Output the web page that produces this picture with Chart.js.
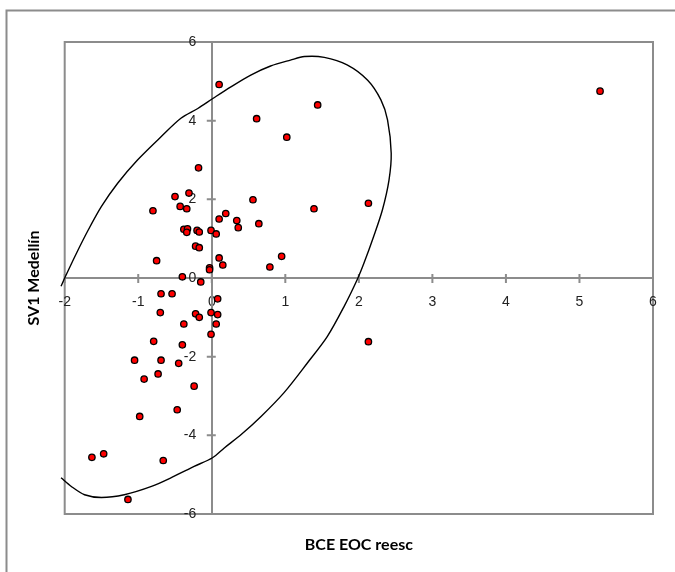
<!DOCTYPE html>
<html>
<head>
<meta charset="utf-8">
<script src="https://cdn.jsdelivr.net/npm/chart.js@4.4.1/dist/chart.umd.min.js"></script>
<style>
  html, body { margin: 0; padding: 0; background: #ffffff; }
  canvas { display: block; }
</style>
</head>
<body>
<canvas id="chart" width="675" height="572"></canvas>
<script>
// Axis titles
const xTitle = 'BCE EOC reesc';
const yTitle = 'SV1 Medellín';

// Axis ranges and tick steps
const xRange = [-2, 6];
const yRange = [-6, 6];
const xStep = 1;
const yStep = 2;

// Observations: BCE EOC (rescaled) vs SV1 Medellín
const bceValues = [
  0.10, 5.28, 1.44, 0.61, 1.02, -0.18, -0.31, -0.50, 0.56, 2.13,
  -0.80, -0.43, -0.34, 1.39, 0.19, 0.10, 0.34, 0.64, 0.36, -0.38,
  -0.33, -0.34, -0.20, -0.17, -0.01, 0.06, -0.22, -0.17, 0.95, 0.10,
  -0.75, 0.15, 0.79, -0.03, -0.03, -0.40, -0.15, -0.69, -0.54, 0.08,
  -0.70, -0.22, -0.17, -0.01, 0.08, -0.38, 0.06, -0.01, -0.79, -0.40,
  2.13, -1.05, -0.69, -0.45, -0.73, -0.92, -0.24, -0.47, -0.98, -1.47,
  -1.63, -0.66, -1.14
];
const sv1Values = [
  4.92, 4.75, 4.40, 4.05, 3.58, 2.80, 2.16, 2.07, 1.99, 1.90,
  1.71, 1.82, 1.76, 1.76, 1.64, 1.50, 1.46, 1.38, 1.28, 1.24,
  1.25, 1.16, 1.21, 1.17, 1.21, 1.12, 0.81, 0.77, 0.55, 0.51,
  0.44, 0.33, 0.28, 0.26, 0.21, 0.03, -0.10, -0.40, -0.40, -0.53,
  -0.88, -0.91, -1.00, -0.88, -0.93, -1.17, -1.17, -1.43, -1.61, -1.70,
  -1.62, -2.09, -2.09, -2.17, -2.44, -2.57, -2.75, -3.35, -3.52, -4.47,
  -4.56, -4.64, -5.63
];

// Confidence ellipse outline, traced clockwise (the part left of x = -2 is cut off)
const ellipseX = [
  -2.05, -2.00, -1.84, -1.68, -1.50, -1.28, -1.01, -0.69, -0.42, -0.19,
  0.02, 0.26, 0.53, 0.80, 1.07, 1.26, 1.53, 1.84, 2.12, 2.30,
  2.39, 2.44, 2.41, 2.32, 2.20, 2.07, 1.98, 1.80, 1.57, 1.30,
  0.98, 0.67, 0.40, 0.17, 0.01, -0.24, -0.51, -0.82, -1.19, -1.50,
  -1.73, -1.91, -2.05
];
const ellipseY = [
  -0.21, 0.00, 0.63, 1.22, 1.82, 2.41, 3.00, 3.59, 4.06, 4.31,
  4.57, 4.86, 5.16, 5.39, 5.54, 5.63, 5.61, 5.42, 5.03, 4.53,
  4.02, 3.17, 2.49, 1.73, 1.05, 0.38, -0.03, -0.72, -1.49, -2.16,
  -2.92, -3.52, -3.98, -4.32, -4.57, -4.79, -5.04, -5.30, -5.51, -5.58,
  -5.51, -5.30, -5.08
];

const points = bceValues.map((x, i) => ({ x: x, y: sv1Values[i] }));
const ellipse = ellipseX.map((x, i) => ({ x: x, y: ellipseY[i] }));

const frameGray = '#8c8c8c';
const tickFont = { family: "'Liberation Sans', Arial, sans-serif", size: 14 };
const titleFont = { family: "Lato, 'Liberation Sans', sans-serif", size: 16, weight: 'bold' };
// two figure spaces keep the y labels clear of the vertical axis
const yLabelGap = '\u2007\u2007';

// Outer frame, plot-area rectangle and cross-shaped tick marks on the zero axes
const framePlugin = {
  id: 'frame',
  beforeDraw(chart) {
    const ctx = chart.ctx;
    const a = chart.chartArea;
    ctx.save();
    ctx.strokeStyle = frameGray;
    ctx.lineWidth = 2;
    ctx.beginPath();
    ctx.moveTo(6.5, chart.height + 2);
    ctx.lineTo(6.5, 10.5);
    ctx.lineTo(chart.width + 2, 10.5);
    ctx.stroke();
    ctx.strokeRect(a.left, a.top, a.right - a.left, a.bottom - a.top);
    ctx.restore();
  },
  beforeDatasetsDraw(chart) {
    const ctx = chart.ctx;
    const xs = chart.scales.x;
    const ys = chart.scales.y;
    const x0 = xs.getPixelForValue(0);
    const y0 = ys.getPixelForValue(0);
    ctx.save();
    ctx.strokeStyle = frameGray;
    ctx.lineWidth = 2;
    ctx.beginPath();
    xs.ticks.forEach(t => {
      const px = xs.getPixelForValue(t.value);
      ctx.moveTo(px, y0 - 4);
      ctx.lineTo(px, y0 + 5);
    });
    ys.ticks.forEach(t => {
      const py = ys.getPixelForValue(t.value);
      ctx.moveTo(x0 - 5, py);
      ctx.lineTo(x0 + 4, py);
    });
    ctx.stroke();
    ctx.restore();
  }
};

new Chart(document.getElementById('chart'), {
  type: 'scatter',
  data: {
    datasets: [
      {
        label: 'Observaciones',
        data: points,
        pointStyle: 'circle',
        pointRadius: 3.2,
        pointHoverRadius: 3.2,
        pointBackgroundColor: '#ff0000',
        pointBorderColor: '#000000',
        pointBorderWidth: 1.3,
        showLine: false
      },
      {
        label: 'Elipse',
        data: ellipse,
        showLine: true,
        borderColor: '#000000',
        borderWidth: 1.4,
        tension: 0.3,
        pointRadius: 0,
        fill: false,
        clip: { left: 6, top: 0, right: 0, bottom: 0 }
      }
    ]
  },
  options: {
    responsive: false,
    maintainAspectRatio: false,
    animation: false,
    events: [],
    layout: { padding: { left: 24, top: 42, right: 22, bottom: 13.4 } },
    plugins: {
      legend: { display: false },
      tooltip: { enabled: false }
    },
    scales: {
      x: {
        type: 'linear',
        min: xRange[0],
        max: xRange[1],
        position: { y: 0 },
        afterFit: s => { s.height = 0; },
        grid: { display: false, drawTicks: false },
        border: { display: true, color: frameGray, width: 2 },
        ticks: { stepSize: xStep, font: tickFont, color: '#222222', padding: 16, maxRotation: 0, autoSkip: false }
      },
      y: {
        type: 'linear',
        min: yRange[0],
        max: yRange[1],
        position: { x: 0 },
        afterFit: s => { s.width = 0; },
        grid: { display: false, drawTicks: false },
        border: { display: true, color: frameGray, width: 2 },
        ticks: {
          stepSize: yStep, font: tickFont, color: '#222222', autoSkip: false,
          callback: v => v + yLabelGap
        }
      },
      xTitleAxis: {
        type: 'linear',
        min: xRange[0],
        max: xRange[1],
        position: 'bottom',
        grid: { display: false, drawTicks: false },
        border: { display: false },
        ticks: { display: false },
        title: { display: true, text: xTitle, font: titleFont, color: '#000000', padding: { top: 21.4, bottom: 4 } }
      },
      yTitleAxis: {
        type: 'linear',
        min: yRange[0],
        max: yRange[1],
        position: 'left',
        grid: { display: false, drawTicks: false },
        border: { display: false },
        ticks: { display: false },
        title: { display: true, text: yTitle, font: titleFont, color: '#000000', padding: { top: 0, bottom: 21.5 } }
      }
    }
  },
  plugins: [framePlugin]
});
</script>
</body>
</html>
